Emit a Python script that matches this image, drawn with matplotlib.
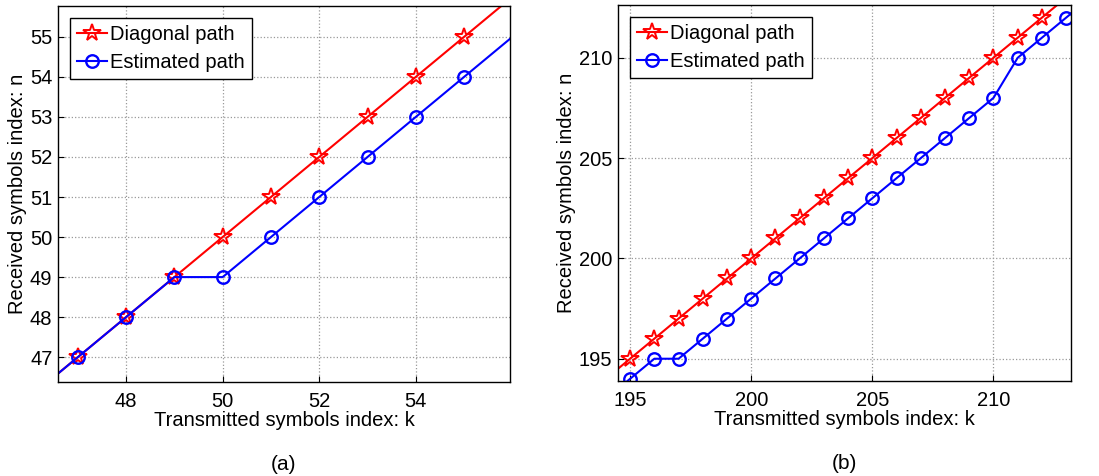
import matplotlib
matplotlib.use("Agg")
import matplotlib.pyplot as plt

plt.rcParams["font.family"] = ["Liberation Sans", "DejaVu Sans"]

# panel (a): symbols 46..56
k_a = [46, 47, 48, 49, 50, 51, 52, 53, 54, 55, 56]
diag_a = [46, 47, 48, 49, 50, 51, 52, 53, 54, 55, 56]
est_a = [46, 47, 48, 49, 49, 50, 51, 52, 53, 54, 55]

# panel (b): symbols 194..214
k_b = list(range(194, 215))
diag_b = list(range(194, 215))
est_b = [193, 194, 195, 195, 196, 197, 198, 199, 200, 201, 202,
         203, 204, 205, 206, 207, 208, 210, 211, 212, 213]

fig = plt.figure(figsize=(10.99, 4.76), dpi=100)
ax1 = fig.add_axes([58 / 1099, 94 / 476, 452 / 1099, 376 / 476])
ax2 = fig.add_axes([618 / 1099, 95 / 476, 453 / 1099, 376 / 476])


def draw(ax, k, diag, est, xlim, ylim, xticks, yticks, tag):
    # markers only for the samples that fall inside the x range
    shown = [i for i, x in enumerate(k) if xlim[0] <= x <= xlim[1]]
    ax.plot(k, diag, color="red", lw=1.5, marker="*", ms=13,
            mfc="none", mec="red", mew=1.4, markevery=shown,
            label="Diagonal path")
    ax.plot(k, est, color="blue", lw=1.5, marker="o", ms=9,
            mfc="none", mec="blue", mew=1.7, markevery=shown,
            label="Estimated path")
    ax.set_xlim(*xlim)
    ax.set_ylim(*ylim)
    ax.set_xticks(xticks)
    ax.set_yticks(yticks)
    ax.grid(True, color="#999999", ls=":", lw=0.9)
    ax.tick_params(direction="in", labelsize=14.5, length=4)
    ax.tick_params(axis="x", pad=7)
    ax.tick_params(axis="y", pad=4)
    for s in ax.spines.values():
        s.set_linewidth(1.0)
    ax.set_xlabel("Transmitted symbols index: k", fontsize=14.5, labelpad=0)
    ax.set_ylabel("Received symbols index: n", fontsize=14.5, labelpad=2)
    leg = ax.legend(loc="upper left", fontsize=14.5, fancybox=False,
                    framealpha=1, edgecolor="black", handlelength=1.5,
                    handletextpad=0.15, borderpad=0.35, labelspacing=0.42,
                    borderaxespad=0.6)
    leg.get_frame().set_linewidth(1.0)
    ax.text(0.5, -0.22, tag, transform=ax.transAxes, ha="center",
            va="center", fontsize=15)


draw(ax1, k_a, diag_a, est_a, (46.59, 55.95), (46.38, 55.77),
     [48, 50, 52, 54], range(47, 56), "(a)")
draw(ax2, k_b, diag_b, est_b, (194.5, 213.2), (193.89, 212.63),
     [195, 200, 205, 210], [195, 200, 205, 210], "(b)")

fig.savefig("out.png", dpi=100)
